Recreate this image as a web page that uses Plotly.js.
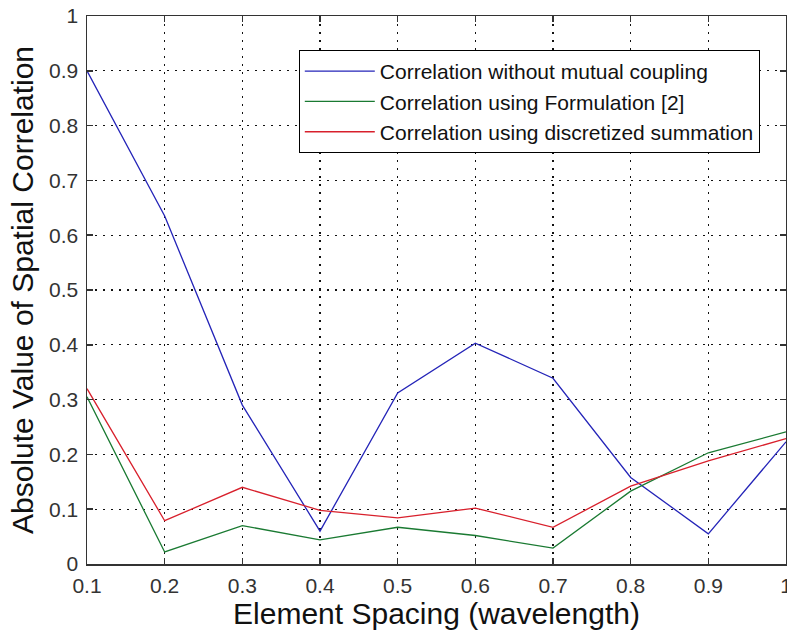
<!DOCTYPE html>
<html>
<head>
<meta charset="utf-8">
<script src="https://cdn.plot.ly/plotly-3.0.1.min.js"></script>
<style>html,body{margin:0;padding:0;background:#fff;}#chart{width:787px;height:637px;}</style>
</head>
<body>
<div id="chart"></div>
<script>
const spacing = [0.1, 0.2, 0.3, 0.4, 0.5, 0.6, 0.7, 0.8, 0.9, 1.0];
const noCoupling = [0.90, 0.635, 0.29, 0.060, 0.312, 0.403, 0.339, 0.158, 0.055, 0.223];
const formulation2 = [0.305, 0.022, 0.070, 0.044, 0.067, 0.052, 0.029, 0.133, 0.203, 0.241];
const discretized = [0.320, 0.079, 0.140, 0.098, 0.084, 0.102, 0.067, 0.142, 0.188, 0.229];
const seriesNames = ["Correlation without mutual coupling", "Correlation using Formulation [2]", "Correlation using discretized summation"];
const xTickVals = [0.1, 0.2, 0.3, 0.4, 0.5, 0.6, 0.7, 0.8, 0.9, 1.0];
const xTickText = ["0.1", "0.2", "0.3", "0.4", "0.5", "0.6", "0.7", "0.8", "0.9", "1"];
const yTickVals = [0, 0.1, 0.2, 0.3, 0.4, 0.5, 0.6, 0.7, 0.8, 0.9, 1.0];
const yTickText = ["0", "0.1", "0.2", "0.3", "0.4", "0.5", "0.6", "0.7", "0.8", "0.9", "1"];

const colors = ["#2424b8", "#1a7a32", "#d8202c"];
const ys = [noCoupling, formulation2, discretized];
const traces = ys.map((y, i) => ({
  x: spacing, y: y, type: "scatter", mode: "lines", name: seriesNames[i],
  line: {color: colors[i], width: 1.3}
}));

const font = "Liberation Sans, Arial, sans-serif";
const axisCommon = {
  showline: true, linecolor: "#333", linewidth: 1.5, mirror: "ticks",
  ticks: "inside", ticklen: 6, tickwidth: 1.5, tickcolor: "#333",
  showgrid: true, gridcolor: "#111", gridwidth: 1.2, griddash: "2px,6px",
  zeroline: false, tickfont: {family: font, size: 21, color: "#333"},
  automargin: false, ticklabeloverflow: "allow"
};
const layout = {
  width: 787, height: 637,
  margin: {l: 87, r: 1, t: 16, b: 73},
  paper_bgcolor: "#fff", plot_bgcolor: "#fff",
  showlegend: true,
  legend: {
    x: 0.303, y: 0.938, xanchor: "left", yanchor: "top",
    bgcolor: "#fff", bordercolor: "#000", borderwidth: 1,
    font: {family: font, size: 21, color: "#111"},
    itemwidth: 70, tracegroupgap: 0
  },
  xaxis: Object.assign({}, axisCommon, {
    range: [0.1, 1.0], tickvals: xTickVals, ticktext: xTickText,
    ticklabelstandoff: 2,
    title: {text: "Element Spacing (wavelength)", font: {family: font, size: 30, color: "#111"}, standoff: 6}
  }),
  yaxis: Object.assign({}, axisCommon, {
    range: [0, 1.0], tickvals: yTickVals, ticktext: yTickText,
    ticklabelstandoff: 3,
    title: {text: "Absolute Value of Spatial Correlation", font: {family: font, size: 30, color: "#111"}, standoff: 6}
  })
};
Plotly.newPlot("chart", traces, layout, {displayModeBar: false, staticPlot: true});
</script>
</body>
</html>
